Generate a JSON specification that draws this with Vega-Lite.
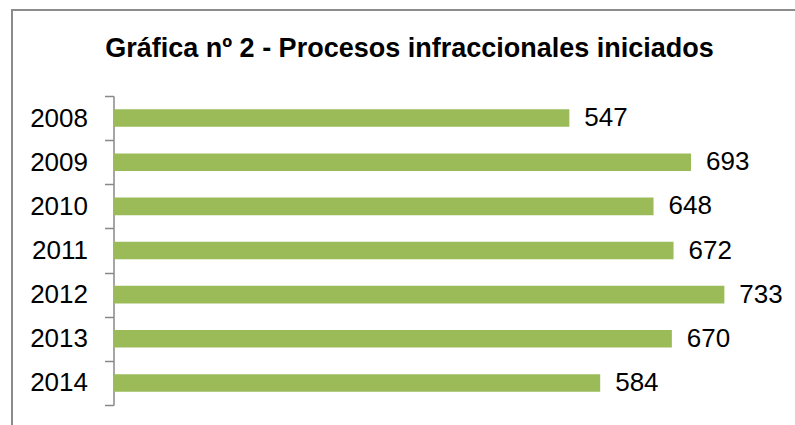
{
  "$schema": "https://vega.github.io/schema/vega-lite/v6.json",
  "width": 785,
  "height": 417,
  "padding": {"left": 12, "top": 10, "right": 0, "bottom": 0},
  "autosize": {"type": "none"},
  "background": "white",
  "config": {"view": {"stroke": "#8c8c8c", "strokeWidth": 2}},
  "title": {
    "text": "Gráfica nº 2 - Procesos infraccionales iniciados",
    "font": "Liberation Sans",
    "fontSize": 27,
    "fontWeight": "bold",
    "color": "#000000",
    "anchor": "middle",
    "frame": "group",
    "baseline": "alphabetic",
    "offset": -46,
    "dy": 40.5,
    "dx": 5
  },
  "data": {
    "values": [
      {"year": "2008", "count": 547},
      {"year": "2009", "count": 693},
      {"year": "2010", "count": 648},
      {"year": "2011", "count": 672},
      {"year": "2012", "count": 733},
      {"year": "2013", "count": 670},
      {"year": "2014", "count": 584}
    ]
  },
  "encoding": {
    "y": {
      "field": "year",
      "type": "nominal",
      "sort": null,
      "scale": {"range": [86, 395], "paddingInner": 0, "paddingOuter": 0},
      "axis": {
        "title": null,
        "orient": "left",
        "offset": -101.5,
        "tickBand": "extent",
        "domainColor": "#888888",
        "domainWidth": 1.5,
        "tickColor": "#888888",
        "tickWidth": 1.5,
        "tickSize": 9,
        "labelPadding": 17,
        "labelFont": "Liberation Sans",
        "labelFontSize": 26,
        "labelColor": "#000000",
        "grid": false
      }
    }
  },
  "layer": [
    {
      "mark": {"type": "bar", "color": "#9BBB59", "size": 17.6},
      "encoding": {
        "x": {
          "field": "count",
          "type": "quantitative",
          "scale": {"domain": [0, 800], "range": [101.5, 768.2]},
          "axis": null
        }
      }
    },
    {
      "mark": {
        "type": "text",
        "align": "left",
        "baseline": "middle",
        "dx": 15,
        "font": "Liberation Sans",
        "fontSize": 26,
        "color": "#000000"
      },
      "encoding": {
        "x": {"field": "count", "type": "quantitative"},
        "text": {"field": "count", "type": "quantitative"}
      }
    }
  ]
}
